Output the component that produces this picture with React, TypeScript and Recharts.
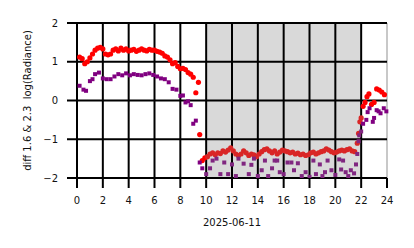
import {
  ReferenceArea,
  ReferenceLine,
  Scatter,
  ScatterChart,
  XAxis,
  YAxis,
} from "recharts";

// hours of day, 2025-06-11
const RED_HOURS = [
  0.2, 0.4, 0.6, 0.8, 1.0, 1.2, 1.4, 1.6, 1.8, 2.0, 2.2, 2.4, 2.6, 2.8, 3.0,
  3.2, 3.4, 3.6, 3.8, 4.0, 4.2, 4.4, 4.6, 4.8, 5.0, 5.2, 5.4, 5.6, 5.8, 6.0,
  6.2, 6.4, 6.6, 6.8, 7.0, 7.2, 7.4, 7.6, 7.8, 8.0, 8.2, 8.4, 8.6, 8.8, 9.0,
  9.2, 9.4, 9.5, 9.7, 9.9, 10.1, 10.3, 10.5, 10.7, 10.9, 11.1, 11.3, 11.5,
  11.7, 11.9, 12.1, 12.3, 12.5, 12.7, 12.9, 13.1, 13.3, 13.5, 13.7, 13.9, 14.1,
  14.3, 14.5, 14.7, 14.9, 15.1, 15.3, 15.5, 15.7, 15.9, 16.1, 16.3, 16.5, 16.7,
  16.9, 17.1, 17.3, 17.5, 17.7, 17.9, 18.1, 18.3, 18.5, 18.7, 18.9, 19.1, 19.3,
  19.5, 19.7, 19.9, 20.1, 20.3, 20.5, 20.7, 20.9, 21.1, 21.3, 21.5, 21.7, 21.8,
  21.9, 22.0, 22.15, 22.3, 22.45, 22.6, 22.8, 23.0, 23.2, 23.4, 23.6, 23.8,
];
const RED_VALUES = [
  1.12, 1.08, 0.95, 1.0, 1.1, 1.2, 1.3, 1.35, 1.37, 1.33, 1.2, 1.18, 1.2, 1.3,
  1.33, 1.28, 1.35, 1.3, 1.33, 1.28, 1.3, 1.32, 1.27, 1.3, 1.33, 1.3, 1.28,
  1.32, 1.3, 1.3, 1.27, 1.25, 1.22, 1.15, 1.12, 1.05, 0.95, 0.98, 0.88, 0.82,
  0.83, 0.8, 0.72, 0.68, 0.6, 0.2, 0.47, -0.88, -1.55, -1.48, -1.45, -1.38,
  -1.35, -1.4, -1.35, -1.37, -1.3, -1.33, -1.28, -1.22, -1.3, -1.38, -1.42,
  -1.38, -1.3, -1.35, -1.42, -1.38, -1.4, -1.45, -1.38, -1.32, -1.27, -1.25,
  -1.3, -1.35, -1.3, -1.38, -1.33, -1.28, -1.3, -1.32, -1.35, -1.33, -1.38,
  -1.36, -1.4, -1.38, -1.42, -1.4, -1.35, -1.33, -1.38, -1.35, -1.32, -1.3,
  -1.25, -1.28, -1.32, -1.35, -1.33, -1.3, -1.28, -1.3, -1.27, -1.25, -1.3,
  -1.32, -1.1, -0.85, -0.55, -0.45, -0.15, -0.05, 0.1, 0.17, -0.1, -0.05, 0.3,
  0.27, 0.22, 0.15,
];

const PURPLE_HOURS = [
  0.2, 0.5, 0.7, 1.0, 1.2, 1.4, 1.7, 2.0, 2.3, 2.6, 2.9, 3.2, 3.5, 3.8, 4.1,
  4.4, 4.7, 5.0, 5.3, 5.6, 5.9, 6.2, 6.5, 6.8, 7.1, 7.4, 7.7, 8.0, 8.2, 8.4,
  8.6, 8.8, 9.0, 9.2, 9.5, 9.7, 10.0, 10.3, 10.5, 10.8, 11.1, 11.4, 11.7, 12.0,
  12.3, 12.5, 12.9, 13.3, 13.5, 13.7, 14.0, 14.3, 14.55, 14.8, 15.1, 15.3,
  15.5, 15.7, 16.0, 16.3, 16.6, 16.8, 17.1, 17.4, 17.7, 18.0, 18.3, 18.5, 18.8,
  19.0, 19.2, 19.4, 19.7, 20.0, 20.3, 20.45, 20.6, 20.8, 21.0, 21.2, 21.45,
  21.6, 21.7, 21.8, 21.85, 22.0, 22.15, 22.4, 22.5, 22.65, 22.9, 23.0, 23.2,
  23.35, 23.5, 23.75, 23.95,
];
const PURPLE_VALUES = [
  0.38, 0.28, 0.25, 0.5, 0.55, 0.68, 0.72, 0.57, 0.55, 0.55, 0.62, 0.68, 0.65,
  0.7, 0.65, 0.68, 0.66, 0.65, 0.68, 0.7, 0.66, 0.62, 0.57, 0.55, 0.47, 0.3,
  0.28, 0.12, 0.13, -0.05, -0.02, -0.12, -0.6, -0.52, -1.6, -1.75, -1.9, -1.75,
  -1.55, -1.5, -1.9, -1.6, -1.9, -1.65, -1.95, -1.5, -1.63, -1.9, -1.66, -1.5,
  -1.95, -1.8, -1.55, -1.95, -1.75, -1.55, -1.55, -1.85, -1.9, -1.6, -1.6,
  -1.8, -1.62, -1.95, -1.85, -1.97, -1.55, -1.9, -1.65, -1.95, -1.85, -1.55,
  -1.8, -1.92, -1.52, -1.78, -1.55, -1.85, -1.95, -1.8, -1.88, -1.65, -1.38,
  -1.05, -0.9, -0.8, -0.6, -0.5, -0.3, -0.2, -0.55, -0.45, -0.25, -0.28, -0.33,
  -0.2, -0.28,
];

const X_TICKS = [0, 2, 4, 6, 8, 10, 12, 14, 16, 18, 20, 22, 24];
const Y_TICKS = [-2, -1, 0, 1, 2];
const NIGHT_START = 10;
const NIGHT_END = 22;

const redData = RED_HOURS.map((x, i) => ({ x, y: RED_VALUES[i] }));
const purpleData = PURPLE_HOURS.map((x, i) => ({ x, y: PURPLE_VALUES[i] }));

const tickStyle = { fontSize: 10, fill: "#111", fontFamily: "DejaVu Sans" };
const minus = (v: number) => String(v).replace("-", "\u2212");

// the grey band lies over the points in the original, so points inside it look dimmer
const inNight = (p: any) => {
  const x = p?.payload?.x ?? p?.x;
  return x >= NIGHT_START && x <= NIGHT_END;
};

const RedDot = (p: any) => (
  <circle cx={p.cx} cy={p.cy} r={2.6} fill={inNight(p) ? "#d92626" : "#ff0000"} />
);
const PurpleSquare = (p: any) => (
  <rect
    x={p.cx - 2}
    y={p.cy - 2}
    width={4}
    height={4}
    fill={inNight(p) ? "#802680" : "#800080"}
  />
);

export default function App() {
  return (
    <div style={{ position: "absolute", left: 0, top: 0, background: "#fff" }}>
      <ScatterChart
        width={414}
        height={248}
        margin={{ top: 23, right: 27, bottom: 40, left: 0 }}
        style={{ fontFamily: "DejaVu Sans" }}
      >
        <ReferenceArea
          x1={NIGHT_START}
          x2={NIGHT_END}
          y1={-2}
          y2={2}
          fill="#808080"
          fillOpacity={0.3}
          stroke="none"
        />
        <XAxis
          type="number"
          dataKey="x"
          domain={[0, 24]}
          ticks={X_TICKS}
          interval={0}
          height={30}
          axisLine={false}
          tickSize={10}
          tickMargin={9}
          tickLine={{ stroke: "#000", strokeWidth: 2 }}
          tick={tickStyle}
          label={{
            value: "2025-06-11",
            position: "bottom",
            offset: 11,
            style: { fontSize: 10, fill: "#111" },
          }}
        />
        <YAxis
          type="number"
          dataKey="y"
          domain={[-2, 2]}
          ticks={Y_TICKS}
          interval={0}
          width={77}
          axisLine={false}
          allowDataOverflow
          tickSize={10}
          tickMargin={9}
          tickLine={{ stroke: "#000", strokeWidth: 2 }}
          tick={tickStyle}
          tickFormatter={minus}
          label={{
            value: "diff 1.6 & 2.3 \u00a0log(Radiance)",
            angle: -90,
            position: "insideLeft",
            offset: 27,
            style: { fontSize: 10, fill: "#111", textAnchor: "middle" },
          }}
        />
        <Scatter data={redData} shape={RedDot} isAnimationActive={false} />
        <Scatter data={purpleData} shape={PurpleSquare} isAnimationActive={false} />
        {X_TICKS.map((t) => (
          <ReferenceLine
            key={`x${t}`}
            x={t}
            stroke={t === 24 ? "#c8c8c8" : "#000"}
            strokeWidth={2}
          />
        ))}
        {Y_TICKS.map((t) => (
          <ReferenceLine key={`y${t}`} y={t} stroke="#000" strokeWidth={2} />
        ))}
      </ScatterChart>
    </div>
  );
}
